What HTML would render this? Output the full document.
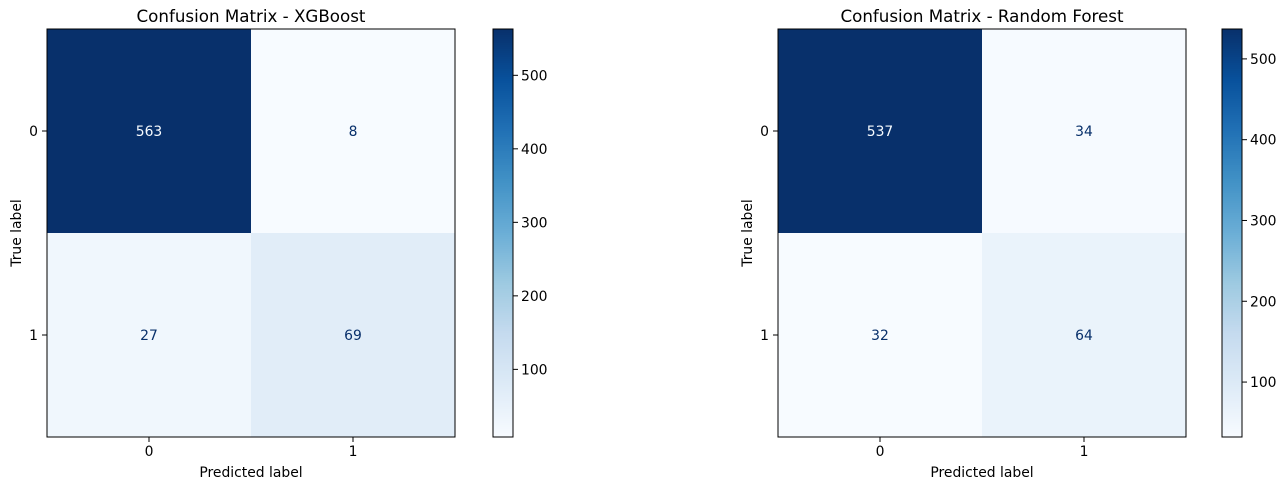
<!DOCTYPE html>
<html><head><meta charset="utf-8"><style>
html,body{margin:0;padding:0;background:#fff;}
svg{display:block;font-family:"DejaVu Sans","Liberation Sans",sans-serif;}
</style></head><body>
<svg id="chart" width="1288" height="490" viewBox="0 0 1288 490" xmlns="http://www.w3.org/2000/svg"></svg>
<script>
const classLabels = ["0", "1"];
const xgbValues = [[563, 8], [27, 69]];
const rfValues = [[537, 34], [32, 64]];
const titles = ["Confusion Matrix - XGBoost", "Confusion Matrix - Random Forest"];
const cbTicks = [100, 200, 300, 400, 500];

const stops = ["#f7fbff","#deebf7","#c6dbef","#9ecae1","#6baed6","#4292c6","#2171b5","#08519c","#08306b"];
function hex(c){return [1,3,5].map(i=>parseInt(c.substr(i,2),16));}
function blues(t){
  t=Math.max(0,Math.min(1,t));
  const p=t*8, i=Math.min(7,Math.floor(p)), f=p-i;
  const a=hex(stops[i]), b=hex(stops[i+1]);
  return "rgb("+a.map((v,k)=>Math.round(v+(b[k]-v)*f)).join(",")+")";
}
const NS="http://www.w3.org/2000/svg";
const svg=document.getElementById("chart");
function el(tag,attrs,parent){const e=document.createElementNS(NS,tag);for(const k in attrs)e.setAttribute(k,attrs[k]);(parent||svg).appendChild(e);return e;}
const FS="13.9";

function drawPanel(vals, title, ax, cbx, key){
  const top=29, size=408, bottom=top+size;
  const flat=vals.flat(), vmin=Math.min(...flat), vmax=Math.max(...flat);
  const g=el("g",{});
  
  
  const n=classLabels.length, cell=size/n;
  const xs=i=>ax+cell*(i+0.5), ys=i=>top+cell*(i+0.5);
  const norm=v=>(v-vmin)/(vmax-vmin);
  vals.forEach((row,r)=>row.forEach((v,c)=>{
    const rc=el("rect",{x:ax+c*cell,y:top+r*cell,width:cell+0.5,height:cell+0.5,fill:blues(norm(v))},g);
    
    
  }));
  vals.forEach((row,r)=>row.forEach((v,c)=>{
    const t=el("text",{x:xs(c),y:ys(r)+5,"text-anchor":"middle","font-size":FS,fill:norm(v)>0.5?"#f7fbff":"#08306b"},g);
    t.textContent=v;
    
    
  }));
  const fr=el("rect",{x:ax,y:top,width:size,height:size,fill:"none",stroke:"#000","stroke-width":1},g);
  
  
  classLabels.forEach((lab,i)=>{
    el("line",{x1:xs(i),x2:xs(i),y1:bottom,y2:bottom+5,stroke:"#000"},g);
    const tx=el("text",{x:xs(i),y:bottom+19,"text-anchor":"middle","font-size":FS,fill:"#000"},g);
    tx.textContent=lab;
    
    
    el("line",{x1:ax-5,x2:ax,y1:ys(i),y2:ys(i),stroke:"#000"},g);
    const ty=el("text",{x:ax-9,y:ys(i)+5,"text-anchor":"end","font-size":FS,fill:"#000"},g);
    ty.textContent=lab;
    
    
  });
  const xl=el("text",{x:ax+size/2,y:bottom+40,"text-anchor":"middle","font-size":FS,fill:"#000"},g);
  xl.textContent="Predicted label";
  
  
  const yl=el("text",{x:0,y:0,"text-anchor":"middle","font-size":FS,fill:"#000",transform:"translate("+(ax-26)+","+(top+size/2)+") rotate(-90)"},g);
  yl.textContent="True label";
  
  
  const tt=el("text",{x:ax+size/2,y:top-7,"text-anchor":"middle","font-size":"16.7",fill:"#000"},g);
  tt.textContent=title;
  
  
  const cw=20, steps=204;
  const cb=el("g",{},g);
  
  
  for(let i=0;i<steps;i++){
    el("rect",{x:cbx,y:top+i*size/steps,width:cw,height:size/steps+0.6,fill:blues(1-(i+0.5)/steps)},cb);
  }
  el("rect",{x:cbx,y:top,width:cw,height:size,fill:"none",stroke:"#000","stroke-width":1},cb);
  const cy=v=>bottom-(v-vmin)/(vmax-vmin)*size;
  cbTicks.forEach(v=>{
    if(v<vmin||v>vmax)return;
    el("line",{x1:cbx+cw,x2:cbx+cw+5,y1:cy(v),y2:cy(v),stroke:"#000"},cb);
    const t=el("text",{x:cbx+cw+8,y:cy(v)+5,"font-size":FS,fill:"#000"},cb);
    t.textContent=v;
    
    
  });
}
drawPanel(xgbValues, titles[0], 47, 493, "xgboost");
drawPanel(rfValues, titles[1], 778, 1222, "random-forest");
</script>
</body></html>
